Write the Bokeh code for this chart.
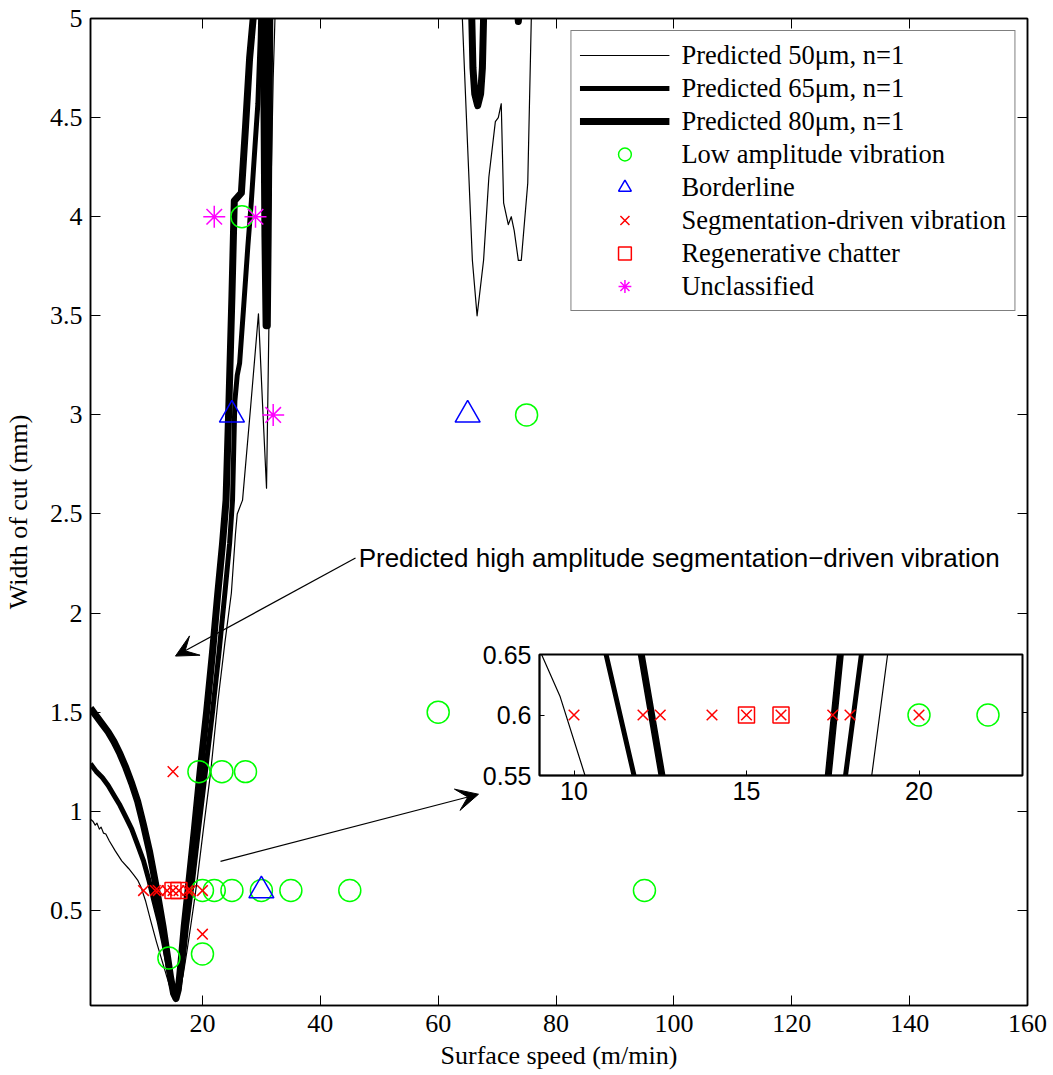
import numpy as np
from bokeh.plotting import figure
from bokeh.models import (Range1d, FixedTicker, LinearAxis, Legend, LegendItem,
                          Arrow, VeeHead, Label, PrintfTickFormatter)
from bokeh.embed import file_html
from bokeh.resources import INLINE

NaN = float("nan")

# ---------------- data (surface speed m/min, width of cut mm) ----------------
pred50_x = [1.0, 1.4, 1.8, 2.1, 2.5, 2.8, 3.2, 3.6, 4.2, 5.2,
            6.3, 7.5, 8.3, 9.06, 9.6, 10.32, 11.2, 12.2, 13.4, 14.4,
            15.0, 15.5, 16.0, 16.7, 17.4, 18.0, 18.63, 19.09, 20.2, 21.4,
            22.6, 23.8, 24.9, 25.6, 25.9, 26.8, 28.2, 29.5, 30.2, 30.87,
            31.2, 31.6, 32.0, 32.3, 32.6, NaN,
            63.8, 64.1, 65.0, 65.8, 66.6, 67.7, 68.6, 69.7, 70.2, 70.7,
            71.1, 71.9, 72.4, 72.9, 73.6, 74.1, 75.2, 75.8, 76.0]
pred50_y = [0.96, 0.95, 0.93, 0.94, 0.91, 0.92, 0.89, 0.885, 0.85, 0.80,
            0.75, 0.71, 0.68, 0.65, 0.615, 0.55, 0.45, 0.34, 0.22, 0.12,
            0.07, 0.05, 0.08, 0.17, 0.30, 0.42, 0.55, 0.65, 0.92, 1.20,
            1.55, 1.85, 2.10, 2.40, 2.50, 2.57, 3.05, 3.51, 3.05, 2.63,
            3.30, 4.10, 4.70, 5.00, 5.40, NaN,
            5.30, 5.00, 4.35, 3.78, 3.50, 3.78, 4.20, 4.48, 4.50, 4.57,
            4.07, 3.96, 4.00, 3.93, 3.78, 3.78, 4.17, 5.00, 5.30]

pred65_x = [1.0, 1.5, 2.0, 3.0, 4.0, 5.0, 6.0, 7.0, 8.0, 9.0,
            10.0, 10.93, 11.74, 12.6, 13.4, 14.1, 14.7, 15.2, 15.6, 16.1,
            16.7, 17.3, 17.87, 18.33, 19.3, 20.5, 21.7, 22.8, 23.8, 24.6,
            25.1, 25.5, 25.9, 26.3, 27.0, 27.7, 28.3, 28.9, 29.4, 29.8,
            30.0]
pred65_y = [1.24, 1.22, 1.20, 1.17, 1.13, 1.08, 1.03, 0.97, 0.91, 0.83,
            0.75, 0.65, 0.55, 0.45, 0.34, 0.23, 0.13, 0.08, 0.07, 0.12,
            0.25, 0.42, 0.55, 0.65, 0.90, 1.20, 1.50, 1.80, 2.10, 2.35,
            2.57, 3.07, 3.20, 3.26, 3.55, 3.85, 4.08, 4.35, 4.57, 4.90,
            5.20]

pred80_x = [1.0, 2.0, 3.0, 4.0, 5.0, 6.0, 7.0, 8.0, 9.0, 10.0,
            11.0, 11.95, 12.55, 13.3, 14.0, 14.6, 15.1, 15.5, 15.9, 16.4,
            16.9, 17.37, 17.72, 18.6, 19.6, 20.7, 21.7, 22.6, 23.4, 24.0,
            24.5, 25.0, 25.4, 26.6, 27.3, 28.0, 28.6, 28.9, NaN,
            30.2, 30.45, 30.6, 30.8, 31.0, 31.15, 31.3, 31.5, NaN,
            65.5, 65.7, 65.9, 66.2, 66.7, 67.2, 67.5, 67.7, 67.9, NaN,
            73.0, 73.6, 74.2]
pred80_y = [1.52, 1.48, 1.44, 1.40, 1.35, 1.29, 1.22, 1.14, 1.05, 0.93,
            0.80, 0.65, 0.55, 0.42, 0.28, 0.16, 0.08, 0.055, 0.10, 0.25,
            0.42, 0.55, 0.65, 0.90, 1.20, 1.50, 1.80, 2.10, 2.35, 2.57,
            3.07, 3.60, 4.08, 4.12, 4.45, 4.80, 5.00, 5.20, NaN,
            5.30, 4.50, 3.90, 3.45, 3.45, 3.90, 4.50, 5.30, NaN,
            5.30, 5.00, 4.75, 4.62, 4.56, 4.62, 4.75, 5.00, 5.30, NaN,
            5.25, 4.985, 5.25]

low_x = [14.3, 20, 20, 22, 25, 30, 35, 45, 95, 19.4, 23.3, 27.3, 60, 75, 26.7]
low_y = [0.26, 0.28, 0.6, 0.6, 0.6, 0.6, 0.6, 0.6, 0.6, 1.2, 1.2, 1.2, 1.5, 3.0, 4.0]

border_x = [30, 25, 65]
border_y = [0.6, 3.0, 3.0]

seg_x = [10, 12, 12.5, 14, 15, 16, 17.5, 18, 20, 15, 20]
seg_y = [0.6, 0.6, 0.6, 0.6, 0.6, 0.6, 0.6, 0.6, 0.6, 1.2, 0.38]

regen_x = [15, 16]
regen_y = [0.6, 0.6]

uncl_x = [22, 29, 32]
uncl_y = [4.0, 4.0, 3.0]

x_ticks = [20, 40, 60, 80, 100, 120, 140, 160]
y_ticks = [0.5, 1.0, 1.5, 2.0, 2.5, 3.0, 3.5, 4.0, 4.5, 5.0]
inset_x_ticks = [10, 15, 20]
inset_y_ticks = [0.55, 0.6, 0.65]

legend_labels = ["Predicted 50\u03bcm, n=1", "Predicted 65\u03bcm, n=1",
                 "Predicted 80\u03bcm, n=1", "Low amplitude vibration",
                 "Borderline", "Segmentation-driven vibration",
                 "Regenerative chatter", "Unclassified"]

annotation_text = "Predicted high amplitude segmentation\u2212driven vibration"

SERIF = "Liberation Serif"
SANS = "Liberation Sans"
GREEN = "#00ff00"
BLUE = "#0000ff"
RED = "#ff0000"
MAGENTA = "#ff00ff"


def style_axis(ax, ticks, font, size, tick_in, show_labels=True):
    ax.ticker = FixedTicker(ticks=ticks)
    ax.formatter = PrintfTickFormatter(format="%g")
    ax.major_tick_in = tick_in
    ax.major_tick_out = 0
    ax.minor_tick_line_color = None
    ax.axis_line_color = "black"
    ax.axis_line_width = 1.5
    ax.major_tick_line_color = "black"
    ax.major_tick_line_width = 1
    ax.major_label_text_font = font
    ax.major_label_text_font_size = size
    ax.major_label_text_color = "black"
    ax.axis_label_text_font = font
    ax.axis_label_text_font_size = size
    ax.axis_label_text_font_style = "normal"
    ax.axis_label_text_color = "black"
    if not show_labels:
        ax.major_label_overrides = {t: "" for t in ticks}
        ax.major_label_standoff = 0


def draw_data(fig):
    arr = lambda v: np.array(v, dtype=float)
    r50 = fig.line(arr(pred50_x), arr(pred50_y), line_color="black", line_width=1.2,
                   line_join="round")
    r65 = fig.line(arr(pred65_x), arr(pred65_y), line_color="black", line_width=5,
                   line_join="round")
    r80 = fig.line(arr(pred80_x), arr(pred80_y), line_color="black", line_width=7,
                   line_join="round")
    rlow = fig.scatter(low_x, low_y, marker="circle", size=22, fill_color=None,
                       line_color=GREEN, line_width=1.5)
    rbor = fig.scatter(border_x, border_y, marker="triangle", size=25, fill_color=None,
                       line_color=BLUE, line_width=1.5)
    rseg = fig.scatter(seg_x, seg_y, marker="x", size=15, line_color=RED, line_width=1.5)
    rreg = fig.scatter(regen_x, regen_y, marker="square", size=16, fill_color=None,
                       line_color=RED, line_width=1.5)
    runc = fig.scatter(uncl_x, uncl_y, marker="asterisk", size=22, line_color=MAGENTA,
                       line_width=1.5)
    return [r50, r65, r80, rlow, rbor, rseg, rreg, runc]


# ---------------- main figure ----------------
p = figure(x_range=Range1d(1, 160), y_range=Range1d(0.02, 5),
           frame_width=937, frame_height=987,
           min_border_left=90, min_border_right=22, min_border_top=18, min_border_bottom=70,
           output_backend="svg", toolbar_location=None,
           x_axis_label="Surface speed (m/min)", y_axis_label="Width of cut (mm)")
p.grid.visible = False
p.outline_line_color = "black"
p.outline_line_width = 1.5
p.background_fill_color = "white"
p.border_fill_color = "white"

style_axis(p.xaxis[0], x_ticks, SERIF, "26px", 10)
style_axis(p.yaxis[0], y_ticks, SERIF, "26px", 10)
p.xaxis[0].major_label_standoff = 9
p.xaxis[0].axis_label_standoff = 6
p.yaxis[0].major_label_standoff = 8
p.yaxis[0].axis_label_standoff = 14

top_ax = LinearAxis()
style_axis(top_ax, x_ticks, SERIF, "26px", 10, show_labels=False)
p.add_layout(top_ax, "above")
right_ax = LinearAxis()
style_axis(right_ax, y_ticks, SERIF, "26px", 10, show_labels=False)
p.add_layout(right_ax, "right")

renderers = draw_data(p)

legend = Legend(items=[LegendItem(label=lab, renderers=[r])
                       for lab, r in zip(legend_labels, renderers)],
                location="top_right")
legend.glyph_width = 90
legend.glyph_height = 32
legend.label_height = 32
legend.spacing = 1
legend.padding = 8
legend.margin = 12
legend.label_standoff = 12
legend.label_text_font = SERIF
legend.label_text_font_size = "26.5px"
legend.label_text_color = "black"
legend.border_line_color = "black"
legend.border_line_width = 1.2
legend.background_fill_color = "white"
legend.background_fill_alpha = 1.0
p.add_layout(legend)

# annotation arrows and text
arrow1_start = (45.97, 2.278)
arrow1_end = (15.42, 1.783)
arrow2_start = (23.06, 0.747)
arrow2_end = (66.84, 1.086)
for (xs, ys), (xe, ye) in [(arrow1_start, arrow1_end), (arrow2_start, arrow2_end)]:
    p.add_layout(Arrow(end=VeeHead(size=22, fill_color="black", line_color="black",
                                   line_width=1),
                       x_start=xs, y_start=ys, x_end=xe, y_end=ye,
                       line_color="black", line_width=1.2))

p.add_layout(Label(x=46.5, y=2.28, text=annotation_text, text_font=SANS,
                   text_font_size="26px", text_baseline="middle", text_align="left",
                   text_color="black"))

# ---------------- inset figure ----------------
ins = figure(x_range=Range1d(9, 23), y_range=Range1d(0.55, 0.65),
             frame_width=483, frame_height=121,
             min_border_left=60, min_border_right=5, min_border_top=20, min_border_bottom=40,
             output_backend="svg", toolbar_location=None,
             styles={"position": "absolute", "left": "479px", "top": "634px",
                     "z-index": "10"})
ins.grid.visible = False
ins.outline_line_color = "black"
ins.outline_line_width = 2
ins.background_fill_color = "white"
ins.border_fill_alpha = 0.0
style_axis(ins.xaxis[0], inset_x_ticks, SANS, "25px", 5)
style_axis(ins.yaxis[0], inset_y_ticks, SANS, "25px", 5)
ins.xaxis[0].major_label_standoff = 6
ins.yaxis[0].major_label_standoff = 8
draw_data(ins)

open("out.html", "w").write(file_html([p, ins], INLINE))
